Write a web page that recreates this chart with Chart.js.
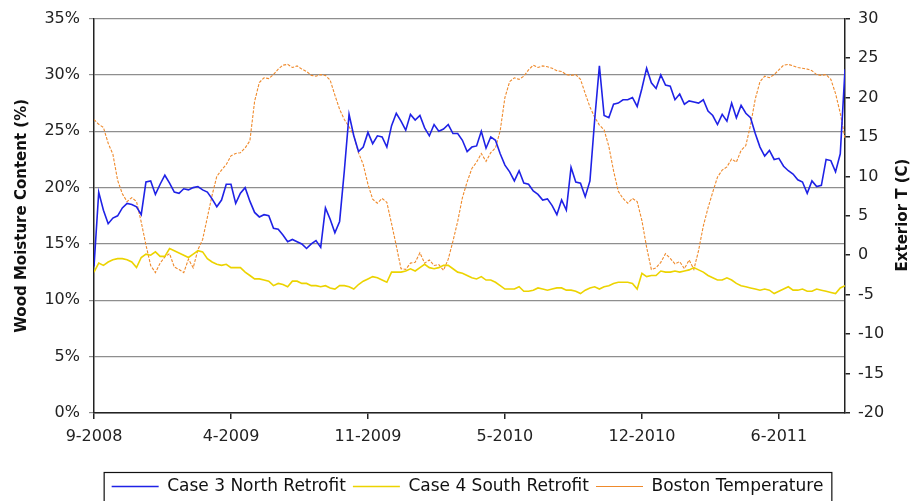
<!DOCTYPE html>
<html>
<head>
<meta charset="utf-8">
<script src="https://cdn.jsdelivr.net/npm/chart.js@4.4.0/dist/chart.umd.min.js"></script>
<style>
  html, body { margin: 0; padding: 0; background: #fff; }
  #wrap { width: 919px; height: 501px; }
</style>
</head>
<body>
<div id="wrap"><canvas id="myChart" width="919" height="501"></canvas></div>
<script>
// weekly readings, week 0 = start of Sept 2008
const xTickLabels = ['9-2008', '4-2009', '11-2009', '5-2010', '12-2010', '6-2011'];
const xTickWeeks = [0, 29, 58, 87, 116, 145];

// Case 3 North Retrofit - wood moisture content (%)
const case3North = [
    13.0, 19.6, 18.0, 16.8, 17.3, 17.5, 18.2, 18.6, 18.5, 18.3,
    17.6, 20.5, 20.6, 19.4, 20.3, 21.1, 20.4, 19.6, 19.5, 19.9,
    19.8, 20.0, 20.1, 19.8, 19.6, 19.0, 18.3, 18.9, 20.3, 20.3,
    18.6, 19.5, 20.0, 18.8, 17.8, 17.4, 17.6, 17.5, 16.4, 16.3,
    15.8, 15.2, 15.4, 15.2, 15.0, 14.6, 15.0, 15.3, 14.7, 18.2,
    17.2, 16.0, 17.0, 21.5, 26.5, 24.6, 23.2, 23.6, 24.9, 23.9,
    24.6, 24.5, 23.6, 25.5, 26.6, 25.9, 25.1, 26.5, 26.0, 26.4,
    25.3, 24.6, 25.6, 25.0, 25.2, 25.6, 24.8, 24.8, 24.2, 23.2,
    23.6, 23.7, 25.0, 23.5, 24.5, 24.2, 23.0, 22.0, 21.4, 20.6,
    21.5, 20.4, 20.3, 19.7, 19.4, 18.9, 19.0, 18.4, 17.6, 18.9,
    18.0, 21.8, 20.5, 20.4, 19.2, 20.6, 26.0, 30.8, 26.4, 26.2,
    27.4, 27.5, 27.8, 27.8, 28.0, 27.2, 28.8, 30.6, 29.3, 28.8,
    30.0, 29.1, 29.0, 27.8, 28.3, 27.4, 27.7, 27.6, 27.5, 27.8,
    26.8, 26.4, 25.6, 26.5, 25.9, 27.5, 26.2, 27.3, 26.6, 26.2,
    24.8, 23.6, 22.8, 23.3, 22.5, 22.6, 21.9, 21.5, 21.2, 20.7,
    20.5, 19.5, 20.6, 20.1, 20.2, 22.5, 22.4, 21.4, 23.0, 30.5
];

// Case 4 South Retrofit - wood moisture content (%)
const case4South = [
    12.5, 13.3, 13.1, 13.4, 13.6, 13.7, 13.7, 13.6, 13.4, 12.9,
    13.8, 14.1, 14.0, 14.3, 13.9, 13.9, 14.6, 14.4, 14.2, 14.0,
    13.8, 14.1, 14.4, 14.3, 13.7, 13.4, 13.2, 13.1, 13.2, 12.9,
    12.9, 12.9, 12.5, 12.2, 11.9, 11.9, 11.8, 11.7, 11.3, 11.5,
    11.4, 11.2, 11.7, 11.7, 11.5, 11.5, 11.3, 11.3, 11.2, 11.3,
    11.1, 11.0, 11.3, 11.3, 11.2, 11.0, 11.4, 11.7, 11.9, 12.1,
    12.0, 11.8, 11.6, 12.5, 12.5, 12.5, 12.6, 12.8, 12.6, 12.9,
    13.2, 12.9, 12.8, 12.9, 13.1, 13.1, 12.8, 12.5, 12.4, 12.2,
    12.0, 11.9, 12.1, 11.8, 11.8, 11.6, 11.3, 11.0, 11.0, 11.0,
    11.2, 10.8, 10.8, 10.9, 11.1, 11.0, 10.9, 11.0, 11.1, 11.1,
    10.9, 10.9, 10.8, 10.6, 10.9, 11.1, 11.2, 11.0, 11.2, 11.3,
    11.5, 11.6, 11.6, 11.6, 11.5, 11.0, 12.4, 12.1, 12.2, 12.2,
    12.6, 12.5, 12.5, 12.6, 12.5, 12.6, 12.7, 12.9, 12.7, 12.5,
    12.2, 12.0, 11.8, 11.8, 12.0, 11.8, 11.5, 11.3, 11.2, 11.1,
    11.0, 10.9, 11.0, 10.9, 10.6, 10.8, 11.0, 11.2, 10.9, 10.9,
    11.0, 10.8, 10.8, 11.0, 10.9, 10.8, 10.7, 10.6, 11.1, 11.3
];

// Boston exterior temperature (C), right axis
const bostonTemp = [
    17.2, 16.6, 16.2, 14.2, 12.8, 9.5, 7.8, 6.8, 7.3, 6.8,
    4.2, 1.3, -1.3, -2.2, -1.0, -0.2, 0.2, -1.5, -1.8, -2.2,
    -0.5, -1.6, 0.7, 2.0, 4.8, 7.6, 10.0, 10.8, 11.5, 12.6,
    12.9, 13.0, 13.6, 14.5, 19.5, 21.9, 22.5, 22.4, 22.9, 23.6,
    24.1, 24.2, 23.8, 24.0, 23.6, 23.3, 22.8, 22.7, 22.9, 22.8,
    22.2, 20.3, 18.5, 17.2, 16.3, 15.2, 13.0, 11.5, 9.0, 7.1,
    6.6, 7.2, 6.7, 4.0, 1.2, -1.7, -1.8, -1.0, -0.9, 0.3,
    -1.0, -0.6, -1.3, -1.2, -1.9, -0.5, 1.8, 4.3, 7.3, 9.3,
    11.0, 11.8, 12.9, 11.9, 13.0, 13.6, 15.8, 20.0, 22.0, 22.5,
    22.3, 22.7, 23.5, 24.1, 23.8, 24.0, 23.9, 23.7, 23.4, 23.3,
    22.9, 22.8, 22.9, 22.3, 20.5, 18.8, 17.5, 16.5, 15.9, 13.8,
    10.7, 8.1, 7.2, 6.6, 7.2, 6.8, 4.4, 1.0, -1.8, -1.6,
    -0.9, 0.2, -0.4, -1.1, -0.8, -1.7, -0.6, -1.8, 0.6, 3.7,
    6.0, 8.0, 9.9, 10.8, 11.2, 12.2, 11.8, 13.3, 13.9, 16.5,
    19.8, 22.0, 22.7, 22.5, 22.9, 23.5, 24.1, 24.2, 24.0, 23.8,
    23.7, 23.6, 23.4, 22.9, 22.8, 22.9, 22.3, 20.5, 18.0, 14.8
];

const rightTitle = 'Exterior T (C)';

// punti {x, y} sulla settimana
function toPoints(values) {
    return values.map((v, i) => ({ x: i, y: v }));
}

// bordo attorno alla legenda + titolo asse destro (ruotato come in Excel)
const extrasPlugin = {
    id: 'extras',
    afterDraw(chart) {
        const ctx = chart.ctx;
        const boxes = chart.legend.legendHitBoxes;
        if (boxes && boxes.length) {
            let l = Infinity, r = -Infinity;
            boxes.forEach(b => {
                l = Math.min(l, b.left);
                r = Math.max(r, b.left + b.width);
            });
            ctx.save();
            ctx.strokeStyle = '#111';
            ctx.lineWidth = 1.2;
            ctx.strokeRect(l - 7.5, chart.legend.top + 1.5, r - l + 16, 40);
            ctx.restore();
        }
        ctx.save();
        ctx.translate(903, 215);
        ctx.rotate(-Math.PI / 2);
        ctx.font = 'bold 15px "DejaVu Sans"';
        ctx.fillStyle = '#111';
        ctx.textAlign = 'center';
        ctx.textBaseline = 'middle';
        ctx.fillText(rightTitle, 0, 0);
        ctx.restore();
    }
};

let myChart;

function createChart() {
    const ctx = document.getElementById('myChart').getContext('2d');
    const tickFont = { family: '"DejaVu Sans"', size: 16 };

    myChart = new Chart(ctx, {
        type: 'line',
        data: {
            datasets: [
                {
                    label: 'Case 3 North Retrofit',
                    data: toPoints(case3North),
                    borderColor: '#1f22e6',
                    borderWidth: 1.6,
                    pointRadius: 0,
                    yAxisID: 'y'
                },
                {
                    label: 'Case 4 South Retrofit',
                    data: toPoints(case4South),
                    borderColor: '#ecd300',
                    borderWidth: 1.6,
                    pointRadius: 0,
                    yAxisID: 'y'
                },
                {
                    label: 'Boston Temperature',
                    data: toPoints(bostonTemp),
                    borderColor: '#ef8a2c',
                    borderWidth: 1.1,
                    borderDash: [3, 1.5],
                    pointRadius: 0,
                    yAxisID: 'yT'
                }
            ]
        },
        options: {
            responsive: false,
            animation: false,
            layout: { padding: { top: 16, left: 16, right: 0, bottom: 0 } },
            scales: {
                x: {
                    type: 'linear',
                    min: 0,
                    max: 159,
                    afterBuildTicks: scale => {
                        scale.ticks = xTickWeeks.map(v => ({ value: v }));
                    },
                    ticks: {
                        callback: (value, index) => xTickLabels[index],
                        font: tickFont,
                        color: '#222',
                        padding: 8,
                        maxRotation: 0,
                        autoSkip: false
                    },
                    grid: { drawOnChartArea: false, tickLength: 6, color: '#222', lineWidth: 1.5 },
                    border: { color: '#222', width: 1.5 },
                    afterFit: scale => { scale.height = 58; }
                },
                y: {
                    position: 'left',
                    min: 0,
                    max: 35,
                    ticks: {
                        stepSize: 5,
                        callback: v => v + '%',
                        font: tickFont,
                        color: '#222',
                        padding: 9
                    },
                    grid: { color: '#8e8e8e', lineWidth: 1.2, tickLength: 5 },
                    border: { color: '#222', width: 1.5 },
                    title: {
                        display: true,
                        text: 'Wood Moisture Content (%)',
                        color: '#111',
                        font: { family: '"DejaVu Sans"', size: 15, weight: 'bold' },
                        padding: { top: -3, bottom: 0 }
                    },
                    afterFit: scale => { scale.width = 78; }
                },
                yT: {
                    position: 'right',
                    min: -20,
                    max: 30,
                    ticks: {
                        stepSize: 5,
                        font: tickFont,
                        color: '#222',
                        padding: 8
                    },
                    grid: { drawOnChartArea: false, tickLength: 5, color: '#222', lineWidth: 1.5 },
                    border: { color: '#222', width: 1.5 },
                    afterFit: scale => { scale.width = 74; }
                }
            },
            plugins: {
                legend: {
                    display: true,
                    position: 'bottom',
                    maxHeight: 30,
                    labels: {
                        usePointStyle: true,
                        pointStyle: 'line',
                        pointStyleWidth: 47,
                        padding: 7,
                        color: '#111',
                        font: { family: '"DejaVu Sans"', size: 17 }
                    }
                },
                tooltip: { enabled: false }
            }
        },
        plugins: [extrasPlugin]
    });
}

window.onload = function () {
    createChart();
};
</script>
</body>
</html>
